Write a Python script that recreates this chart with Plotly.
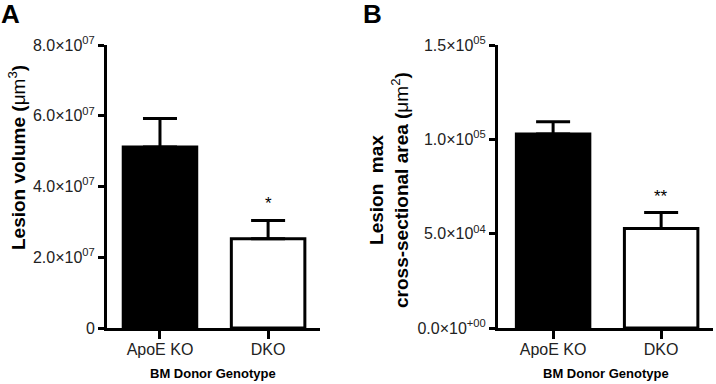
import plotly.graph_objects as go

categories = ["ApoE KO", "DKO"]

# Panel A: lesion volume (um^3)
volume_mean = [5.12e7, 2.52e7]
volume_sem = [0.80e7, 0.52e7]
volume_sig = ["", "*"]
volume_ticks = [0, 2e7, 4e7, 6e7, 8e7]
volume_ticktext = ["0", "2.0×10<sup>07</sup>", "4.0×10<sup>07</sup>",
                   "6.0×10<sup>07</sup>", "8.0×10<sup>07</sup>"]

# Panel B: lesion max cross-sectional area (um^2)
area_mean = [1.028e5, 0.527e5]
area_sem = [0.065e5, 0.085e5]
area_sig = ["", "**"]
area_ticks = [0, 5e4, 1e5, 1.5e5]
area_ticktext = ["0.0×10<sup>+00</sup>", "5.0×10<sup>04</sup>",
                 "1.0×10<sup>05</sup>", "1.5×10<sup>05</sup>"]

FONT = "Liberation Sans, Arial, sans-serif"
fills = ["black", "white"]

fig = go.Figure()

def add_panel(means, sems, xa, ya):
    fig.add_trace(go.Bar(
        x=categories, y=means, width=0.68,
        marker=dict(color=fills, line=dict(color="black", width=3)),
        error_y=dict(type="data", array=sems, arrayminus=[0] * len(sems),
                     symmetric=False, color="black", thickness=3, width=17),
        xaxis=xa, yaxis=ya, showlegend=False, hoverinfo="skip",
    ))

add_panel(volume_mean, volume_sem, "x", "y")
add_panel(area_mean, area_sem, "x2", "y2")

ydom = [1 - 328 / 384, 1 - 45 / 384]
axis_common = dict(showline=True, linecolor="black", linewidth=3,
                   ticks="outside", tickcolor="black", tickwidth=3,
                   showgrid=False, zeroline=False, layer="above traces",
                   automargin=False,
                   tickfont=dict(family=FONT, size=16, color="#222"))

fig.update_layout(
    template="none",
    width=716, height=384,
    margin=dict(l=0, r=0, t=0, b=0, pad=0, autoexpand=False),
    paper_bgcolor="white", plot_bgcolor="white",
    showlegend=False,
    xaxis=dict(domain=[107 / 716, 320 / 716], anchor="y", range=[-0.49, 1.48],
               ticklen=8, ticklabelstandoff=-3, **axis_common),
    yaxis=dict(domain=ydom, anchor="x", range=[0, 8e7],
               tickvals=volume_ticks, ticktext=volume_ticktext, ticklen=6,
               **axis_common),
    xaxis2=dict(domain=[498 / 716, 713 / 716], anchor="y2", range=[-0.51, 1.48],
                ticklen=8, ticklabelstandoff=-3, **axis_common),
    yaxis2=dict(domain=ydom, anchor="x2", range=[0, 1.5e5],
                tickvals=area_ticks, ticktext=area_ticktext, ticklen=6,
                **axis_common),
)

ann = []
# panel letters
ann.append(dict(text="<b>A</b>", x=-1 / 716, y=1 + 3 / 384, xref="paper", yref="paper",
                xanchor="left", yanchor="top", showarrow=False,
                font=dict(family=FONT, size=26, color="black")))
ann.append(dict(text="<b>B</b>", x=361 / 716, y=1 + 3 / 384, xref="paper", yref="paper",
                xanchor="left", yanchor="top", showarrow=False,
                font=dict(family=FONT, size=26, color="black")))
# y titles
ann.append(dict(text="<b>Lesion volume (</b>μm<sup>3</sup><b>)</b>",
                x=17 / 716, y=1 - 158 / 384, xref="paper", yref="paper",
                xanchor="center", yanchor="middle",
                textangle=-90, showarrow=False,
                font=dict(family=FONT, size=19, color="black")))
ann.append(dict(text="<b>Lesion  max</b><br><b>cross-sectional area (</b>μm<sup>2</sup><b>)</b>",
                x=389 / 716, y=1 - 190 / 384, xref="paper", yref="paper",
                xanchor="center", yanchor="middle",
                textangle=-90, showarrow=False,
                font=dict(family=FONT, size=19, color="black")))
# x titles
for xc in [213, 606]:
    ann.append(dict(text="<b>BM Donor Genotype</b>", x=xc / 716, y=1 - 373 / 384,
                    xref="paper", yref="paper", xanchor="center", yanchor="middle",
                    showarrow=False,
                    font=dict(family=FONT, size=13, color="black")))
# significance stars
for xa, ya, means, sems, sig in [("x", "y", volume_mean, volume_sem, volume_sig),
                                 ("x2", "y2", area_mean, area_sem, area_sig)]:
    for c, m, s, t in zip(categories, means, sems, sig):
        if t:
            ann.append(dict(text=t, x=c, y=m + s, xref=xa, yref=ya,
                            yanchor="bottom", yshift=5, showarrow=False,
                            font=dict(family=FONT, size=17, color="black")))

fig.update_layout(annotations=ann)
fig.write_html("out.html",
               config={"displayModeBar": False},
               post_script="document.body.style.margin='0';"
                           "document.body.style.overflow='hidden';")
